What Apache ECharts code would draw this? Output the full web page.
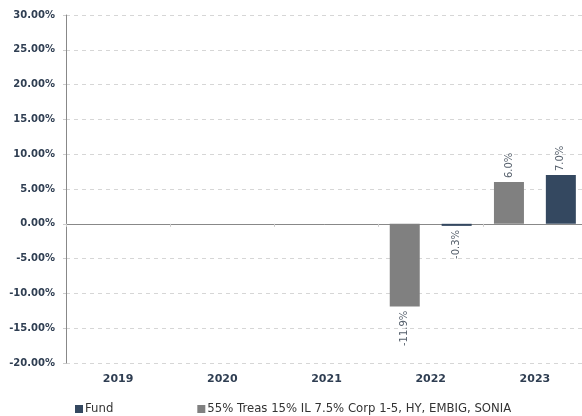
<!DOCTYPE html>
<html>
<head>
<meta charset="utf-8">
<script src="https://cdn.jsdelivr.net/npm/echarts@6/dist/echarts.min.js"></script>
<style>
  html, body { margin: 0; padding: 0; background: #fff; }
  #chart { width: 582px; height: 416px; }
</style>
</head>
<body>
<div id="chart"></div>
<script>
const years = ['2019', '2020', '2021', '2022', '2023']
const fundName = 'Fund'
const benchName = '55% Treas 15% IL 7.5% Corp 1-5, HY, EMBIG, SONIA'
const fundValues = [null, null, null, -0.3, 7.0]
const benchValues = [null, null, null, -11.9, 6.0]

const font = 'DejaVu Sans'
const navy = '#344860'
const grey = '#808080'

const myChart = echarts.init(document.getElementById('chart'))

// 标签: 正数在柱顶, 负数在柱底, 竖排
const barLabel = {
  show: true,
  rotate: 90,
  fontFamily: font,
  fontSize: 10,
  color: '#555f6b',
  formatter: (p) => p.value.toFixed(1) + '%',
}
const labelFor = (vals) =>
  vals.map((v) =>
    v === null
      ? null
      : {
          value: v,
          label: v >= 0
            ? { position: 'top', align: 'left', verticalAlign: 'middle', distance: 4 }
            : { position: 'bottom', align: 'right', verticalAlign: 'middle', distance: 4 },
        }
  )

const option = {
  animation: false,
  textStyle: { fontFamily: font },
  grid: { left: 66, top: 15, right: -5, bottom: 53, outerBoundsMode: 'none', containLabel: false },
  legend: {
    left: 70,
    bottom: 0,
    padding: [5, 5, 1, 5],
    itemWidth: 8,
    itemHeight: 8,
    itemGap: 84,
    icon: 'rect',
    data: [fundName, benchName],
    textStyle: { fontFamily: font, fontSize: 11.7, color: '#333', padding: [0, 0, 0, -3] },
  },
  xAxis: [
    {
      type: 'category',
      data: years,
      axisLine: { show: false, onZero: false },
      axisTick: { show: false },
      axisLabel: { fontFamily: font, fontSize: 11, fontWeight: 'bold', color: '#2f3e52', margin: 11 },
    },
    {
      type: 'category',
      data: years,
      position: 'bottom',
      axisLine: { onZero: true, lineStyle: { color: '#888', width: 1 } },
      axisTick: { show: true, length: 3, lineStyle: { color: '#ccc' } },
      axisLabel: { show: false },
    },
  ],
  yAxis: {
    type: 'value',
    min: -20,
    max: 30,
    interval: 5,
    axisLine: { show: true, lineStyle: { color: '#888' } },
    axisTick: { show: true, length: 3, lineStyle: { color: '#ccc' } },
    axisLabel: {
      fontFamily: font,
      fontSize: 10,
      fontWeight: 'bold',
      color: '#2f3e52',
      margin: 11,
      formatter: (v) => v.toFixed(2) + '%',
    },
    splitLine: { lineStyle: { color: '#d6d6d6', type: [4, 4] } },
  },
  series: [
    {
      name: benchName,
      type: 'bar',
      data: labelFor(benchValues),
      itemStyle: { color: grey },
      barWidth: 30,
      barGap: '73%',
      label: barLabel,
    },
    {
      name: fundName,
      type: 'bar',
      data: labelFor(fundValues),
      itemStyle: { color: navy },
      barWidth: 30,
      label: barLabel,
    },
  ],
}

myChart.setOption(option)
window.addEventListener('resize', () => {
  myChart.resize()
})
</script>
</body>
</html>
